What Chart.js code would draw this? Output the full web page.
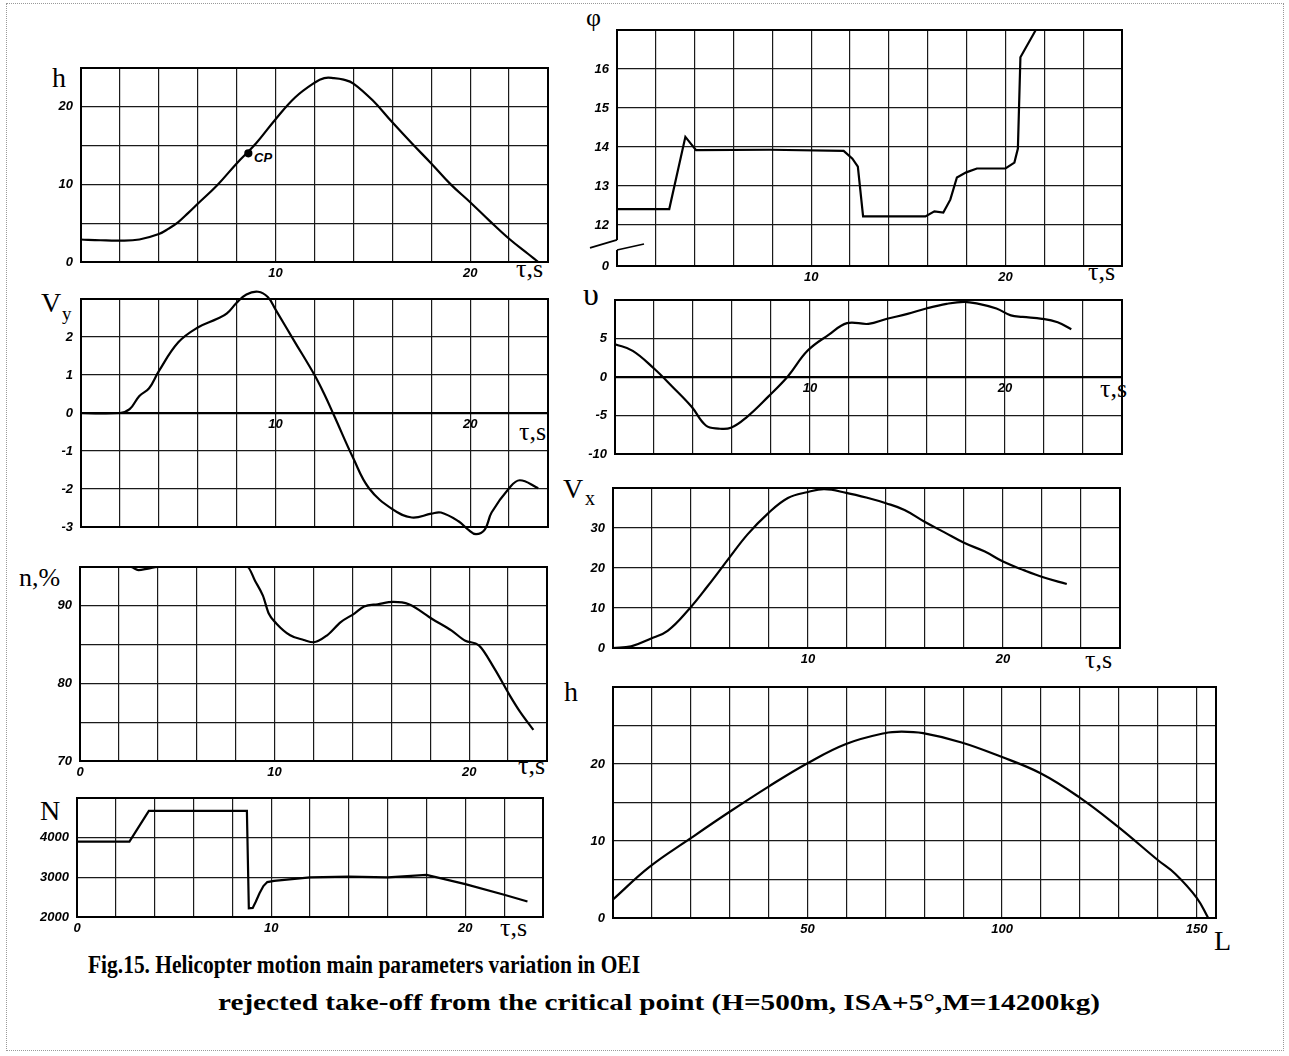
<!DOCTYPE html>
<html><head><meta charset="utf-8">
<script src="https://cdn.jsdelivr.net/npm/chart.js@4.4.1/dist/chart.umd.min.js"></script>
<style>
html,body{margin:0;padding:0;background:#fff;}
#page{position:relative;width:1289px;height:1056px;overflow:hidden;background:#fff;}
canvas{position:absolute;}
.lbl{position:absolute;font-family:"Liberation Serif","DejaVu Serif",serif;color:#000;line-height:1;white-space:nowrap;}
.cap{position:absolute;font-family:"Liberation Serif",serif;font-weight:bold;font-size:25px;line-height:1;white-space:nowrap;transform-origin:0 0;color:#000;}
#border{position:absolute;left:6px;top:3px;width:1276px;height:1046px;border:1px dotted #999;}
</style></head><body><div id="page">
<div id="border"></div>
<div class="lbl" style="left:52px;top:64px;font-size:28px">h</div>
<div class="lbl" style="left:516px;top:256px;font-size:26px">τ,s</div>
<div class="lbl" style="left:254px;top:151px;font-size:13px;font-family:'Liberation Sans';font-style:italic;font-weight:bold">CP</div>
<div class="lbl" style="left:41px;top:289px;font-size:28px">V</div>
<div class="lbl" style="left:62px;top:304px;font-size:19px">y</div>
<div class="lbl" style="left:519px;top:419px;font-size:26px">τ,s</div>
<div class="lbl" style="left:19px;top:565px;font-size:26px">n,%</div>
<div class="lbl" style="left:518px;top:753px;font-size:26px">τ,s</div>
<div class="lbl" style="left:40px;top:797px;font-size:28px">N</div>
<div class="lbl" style="left:500px;top:915px;font-size:26px">τ,s</div>
<div class="lbl" style="left:586px;top:5px;font-size:26px">φ</div>
<div class="lbl" style="left:1088px;top:259px;font-size:26px">τ,s</div>
<div class="lbl" style="left:583px;top:278px;font-size:32px">υ</div>
<div class="lbl" style="left:1100px;top:376px;font-size:26px">τ,s</div>
<div class="lbl" style="left:563px;top:475px;font-size:28px">V</div>
<div class="lbl" style="left:585px;top:488px;font-size:20px">x</div>
<div class="lbl" style="left:1085px;top:647px;font-size:26px">τ,s</div>
<div class="lbl" style="left:564px;top:678px;font-size:28px">h</div>
<div class="lbl" style="left:1214px;top:927px;font-size:28px">L</div>
<div id="cap1" class="cap" style="left:88px;top:952px">Fig.15. Helicopter motion main parameters variation in OEI</div>
<div id="cap2" class="cap" style="left:218px;top:990px;font-size:24px">rejected take-off from the critical point (H=500m, ISA+5°,M=14200kg)</div>
</div>
<script>
// ================= DATA =================
// h(τ) – top left
const hTau = [0,1,2,3,4,4.5,5,5.5,6,7,8,9,10,11,12,12.5,13,13.5,14,15,16,17,18,19,20,21,22,23,23.5];
const hVal = [2.9,2.8,2.75,2.9,3.6,4.3,5.15,6.3,7.5,9.9,12.7,15.3,18.4,21.2,23.1,23.7,23.7,23.5,23.0,20.8,18.0,15.3,12.7,10.0,7.7,5.3,3.0,1.0,0];
const cpTau = [8.6];
const cpVal = [14];
// Vy(τ)
const vyTau = [0,2,2.5,3,3.5,4,5,6,7,7.5,8,8.5,9.1,9.6,10,11,12,12.5,13,14,14.8,16,17,18,18.5,19.4,19.9,20.3,20.75,21.1,22,22.55,23.5];
const vyVal = [0,0,0.1,0.45,0.65,1.1,1.86,2.25,2.48,2.62,2.9,3.12,3.19,3.05,2.72,1.86,1.0,0.5,-0.06,-1.2,-1.98,-2.53,-2.75,-2.65,-2.62,-2.85,-3.07,-3.19,-3.07,-2.62,-1.98,-1.77,-1.98];
// n,% (τ)
const nTau = [0,2.6,3.0,3.5,4.0,8.6,9.0,9.4,9.7,10.1,10.8,11.5,12.0,12.7,13.4,14.1,14.6,15.3,16.1,16.9,18.1,19.1,19.8,20.5,21.3,22.1,22.6,23.3];
const nVal = [95,95,94.6,94.8,95,95,93.2,91.3,89.0,87.7,86.2,85.6,85.3,86.2,87.9,89.0,89.9,90.2,90.5,90.2,88.3,86.8,85.5,84.9,81.9,78.4,76.4,74.0];
// N(τ)
const NTau = [0,2.7,3.7,8.75,8.85,9.05,9.2,9.4,9.6,9.8,10.15,12,14,16,18,20,22,23.2];
const NVal = [3900,3900,4675,4675,2220,2230,2380,2600,2780,2880,2910,3000,3020,3000,3060,2830,2560,2390];
// φ(τ)
const phiTau = [0,2.69,3.52,4.07,7.9,11.67,12.12,12.4,12.67,15.88,16.34,16.8,17.16,17.5,17.98,18.53,20.0,20.46,20.64,20.77,21.56,23.1];
const phiVal = [12.41,12.41,14.26,13.92,13.93,13.9,13.7,13.5,12.22,12.22,12.35,12.32,12.65,13.22,13.35,13.45,13.45,13.6,13.96,16.3,17,17];
// υ(τ)
const upsTau = [0,0.91,2.0,2.93,3.93,4.66,5.3,5.94,6.76,7.86,8.87,9.87,10.97,11.9,13.0,13.95,15.0,15.96,17.0,17.9,18.65,19.56,20.3,20.9,21.9,22.7,23.4];
const upsVal = [4.26,3.4,1.1,-1.23,-3.87,-6.3,-6.7,-6.6,-5.2,-2.55,0.1,3.4,5.5,7.0,6.9,7.56,8.2,8.9,9.5,9.76,9.5,8.9,8.0,7.8,7.56,7.1,6.2];
// Vx(τ)
const vxTau = [0,0.93,1.87,2.8,3.93,4.86,5.94,6.9,7.94,8.97,10,10.84,11.96,13.08,14.0,14.95,16.0,17.0,18.0,19.07,20.0,21.1,22.06,23.27];
const vxVal = [0,0.4,2.2,4.3,9.9,15.5,22.4,28.4,33.6,37.5,39,39.7,38.8,37.5,36.2,34.5,31.5,28.9,26.3,24.1,21.6,19.4,17.7,16];
// h(L)
const hlL = [0,9.3,19.8,29.7,40.1,50,59.9,69.8,74.2,79.7,89.6,99.5,109.9,119.8,129.7,140.1,144.5,150,153];
const hlVal = [2.4,6.6,10.3,13.7,17.1,20.1,22.6,24.0,24.2,24.0,22.8,21.0,18.8,15.7,11.9,7.5,5.75,2.65,0];

// ticks (grid positions) and labelled ticks
const tau24Ticks = [0,2,4,6,8,10,12,14,16,18,20,22,24];
const tau26Ticks = [0,2,4,6,8,10,12,14,16,18,20,22,24,26];
const tauLabels = [10,20];
const tauLabels0 = [0,10,20];
const hTicks = [0,5,10,15,20,25];
const hLabels = [0,10,20];
const vyTicks = [-3,-2,-1,0,1,2,3];
const vyLabels = [-3,-2,-1,0,1,2];
const nTicks = [70,75,80,85,90,95];
const nLabels = [70,80,90];
const NTicks = [2000,3000,4000,5000];
const NLabels = [2000,3000,4000];
const phiTicks = [10.95,12,13,14,15,16,17];
const phiLabels = {10.95:'0',12:'12',13:'13',14:'14',15:'15',16:'16'};
const upsTicks = [-10,-5,0,5,10];
const upsLabels = [-10,-5,0,5];
const vxTicks = [0,10,20,30,40];
const vxLabels = [0,10,20,30];
const lTicks = [0,10,20,30,40,50,60,70,80,90,100,110,120,130,140,150];
const lLabels = [50,100,150];
const hlTicks = [0,5,10,15,20,25,30];
const hlLabels = [0,10,20];

// ================= DRAWING =================
const page = document.getElementById('page');
const PADL=52, PADT=16, PADR=16, XH=24;
const tickFont = {family:'Liberation Sans', size:13, style:'italic', weight:'bold'};

const framePlugin = {
  id:'frame',
  beforeDatasetsDraw(chart){
    const {ctx, chartArea:a} = chart;
    ctx.save(); ctx.strokeStyle='#000'; ctx.lineWidth=2;
    ctx.strokeRect(a.left, a.top, a.right-a.left, a.bottom-a.top);
    ctx.restore();
  }
};
const breakPlugin = {
  id:'axisBreak',
  afterDatasetsDraw(chart){
    const {ctx, chartArea:a} = chart; const y = chart.scales.y;
    const yA = y.getPixelForValue(11.62), yB = y.getPixelForValue(11.36);
    ctx.save();
    ctx.clearRect(a.left-3, yA, 6, yB-yA);
    ctx.strokeStyle='#000'; ctx.lineWidth=1.6;
    ctx.beginPath(); ctx.moveTo(a.left, yA); ctx.lineTo(a.left-27, yA+8); ctx.stroke();
    ctx.beginPath(); ctx.moveTo(a.left, yB); ctx.lineTo(a.left+27, yB-6); ctx.stroke();
    ctx.restore();
  }
};

function labelFn(labels){
  if (Array.isArray(labels)) return v => labels.includes(v) ? String(v) : '';
  return v => (labels[v] !== undefined ? labels[v] : '');
}

function panel(area, cfg){
  const c = document.createElement('canvas');
  const w = area.r-area.l+PADL+PADR, h = area.b-area.t+PADT+XH;
  c.width=w; c.height=h;
  c.style.left=(area.l-PADL)+'px'; c.style.top=(area.t-PADT)+'px';
  c.style.width=w+'px'; c.style.height=h+'px';
  page.appendChild(c);
  const datasets = cfg.series.map(s => ({
    data: s.x.map((v,i)=>({x:v, y:s.y[i]})),
    borderColor:'#000', backgroundColor:'#000',
    borderWidth: s.bw || 2.2, pointRadius: s.pr || 0,
    showLine: s.showLine !== false, fill:false,
    cubicInterpolationMode: s.mono ? 'monotone' : 'default',
    tension: s.t || 0, clip: false
  }));
  const grid = {color:'#1a1a1a', lineWidth:1.2, drawTicks:false};
  new Chart(c, {
    type:'line',
    data:{datasets},
    options:{
      responsive:false, animation:false, events:[],
      layout:{padding:{left:0, top:PADT, right:PADR, bottom: cfg.xAtZero ? XH : 0}},
      plugins:{legend:{display:false}, tooltip:{enabled:false}},
      scales:{
        x:{type:'linear', axis:'x', min:cfg.x.min, max:cfg.x.max,
           position: cfg.xAtZero ? {y:0} : 'bottom',
           afterBuildTicks: s => { s.ticks = cfg.x.ticks.map(v=>({value:v})); },
           afterFit: s => { if(!cfg.xAtZero) s.height = XH; },
           ticks:{autoSkip:false, maxRotation:0, minRotation:0, padding:4, color:'#000', font:tickFont,
                  callback: labelFn(cfg.x.labels)},
           grid: grid,
           border:{display: !!cfg.xAtZero, color:'#000', width:2.2}},
        y:{type:'linear', min:cfg.y.min, max:cfg.y.max,
           afterBuildTicks: s => { s.ticks = cfg.y.ticks.map(v=>({value:v})); },
           afterFit: s => { s.width = PADL; },
           ticks:{autoSkip:false, padding:8, color:'#000', font:tickFont,
                  callback: labelFn(cfg.y.labels)},
           grid: grid,
           border:{display:false}}
      }
    },
    plugins:[framePlugin].concat(cfg.plugins || [])
  });
}

panel({l:81,t:68,r:548,b:262}, {
  x:{min:0,max:24,ticks:tau24Ticks,labels:tauLabels},
  y:{min:0,max:25,ticks:hTicks,labels:hLabels},
  series:[{x:hTau,y:hVal,t:0.4},{x:cpTau,y:cpVal,pr:3,showLine:false}]
});
panel({l:81,t:299,r:548,b:527}, {
  xAtZero:true,
  x:{min:0,max:24,ticks:tau24Ticks,labels:tauLabels},
  y:{min:-3,max:3,ticks:vyTicks,labels:vyLabels},
  series:[{x:vyTau,y:vyVal,t:0.4}]
});
panel({l:80,t:567,r:547,b:761}, {
  x:{min:0,max:24,ticks:tau24Ticks,labels:tauLabels0},
  y:{min:70,max:95,ticks:nTicks,labels:nLabels},
  series:[{x:nTau,y:nVal,mono:true}]
});
panel({l:77,t:798,r:543,b:917}, {
  x:{min:0,max:24,ticks:tau24Ticks,labels:tauLabels0},
  y:{min:2000,max:5000,ticks:NTicks,labels:NLabels},
  series:[{x:NTau,y:NVal}]
});
panel({l:617,t:30,r:1122,b:266}, {
  x:{min:0,max:26,ticks:tau26Ticks,labels:tauLabels},
  y:{min:10.95,max:17,ticks:phiTicks,labels:phiLabels},
  series:[{x:phiTau,y:phiVal}],
  plugins:[breakPlugin]
});
panel({l:615,t:300,r:1122,b:454}, {
  xAtZero:true,
  x:{min:0,max:26,ticks:tau26Ticks,labels:tauLabels},
  y:{min:-10,max:10,ticks:upsTicks,labels:upsLabels},
  series:[{x:upsTau,y:upsVal,t:0.4}]
});
panel({l:613,t:488,r:1120,b:648}, {
  x:{min:0,max:26,ticks:tau26Ticks,labels:tauLabels},
  y:{min:0,max:40,ticks:vxTicks,labels:vxLabels},
  series:[{x:vxTau,y:vxVal,t:0.4}]
});
panel({l:613,t:687,r:1216,b:918}, {
  x:{min:0,max:155,ticks:lTicks,labels:lLabels},
  y:{min:0,max:30,ticks:hlTicks,labels:hlLabels},
  series:[{x:hlL,y:hlVal,t:0.4}]
});

// caption width fitting
[['cap1',552],['cap2',882]].forEach(([id,target])=>{
  const el=document.getElementById(id);
  const w=el.getBoundingClientRect().width;
  el.style.transform='scaleX('+(target/w)+')';
});
</script>
</body></html>
